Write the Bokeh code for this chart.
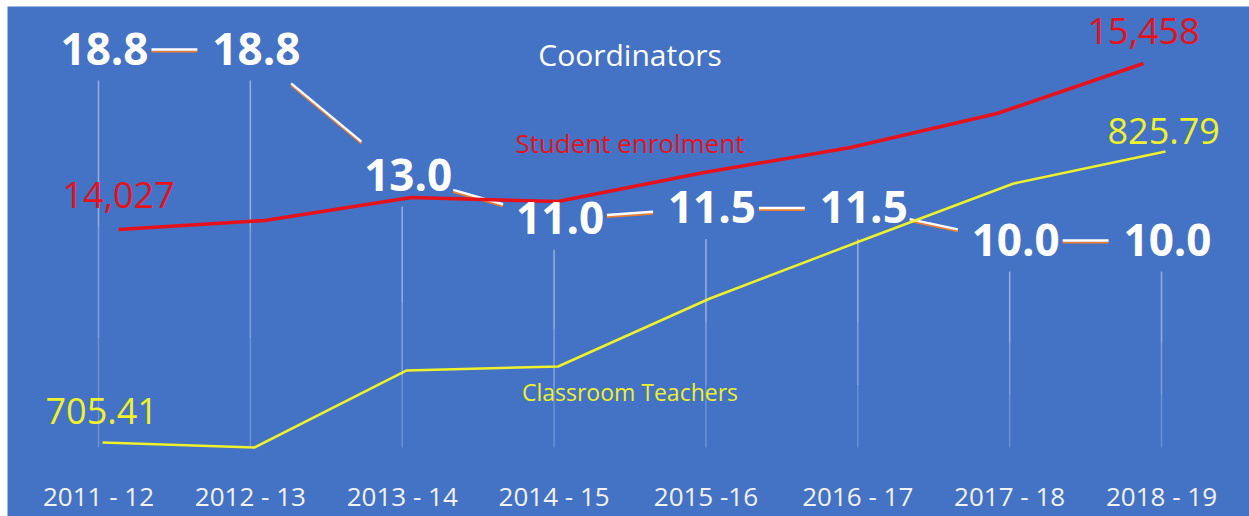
import math
from bokeh.plotting import figure
from bokeh.models import Range1d
from bokeh.core.properties import value
from bokeh.embed import file_html
from bokeh.resources import INLINE

# ---------------- data ----------------
years = ["2011 - 12", "2012 - 13", "2013 - 14", "2014 - 15",
         "2015 -16", "2016 - 17", "2017 - 18", "2018 - 19"]
coordinators = [18.8, 18.8, 13.0, 11.0, 11.5, 11.5, 10.0, 10.0]
enrolment = [14027, 14105, 14303, 14268, 14518, 14734, 15027, 15458]
teachers = [705.41, 703.34, 735.19, 736.85, 764.98, 788.97, 812.55, 825.79]
enrol_labels = ["14,027", "15,458"]
teach_labels = ["705.41", "825.79"]
series_names = ["Coordinators", "Student enrolment", "Classroom Teachers"]

BG = "#4472c4"
RED = "#e5121c"
YEL = "#eef12b"
FONT = value("Open Sans")
BASE = 0.38  # baseline correction (fraction of font size)

W, H = 1249, 516
idx = list(range(len(years)))

p = figure(width=W, height=H, output_backend="svg", toolbar_location=None,
           x_range=Range1d(-0.5992, 7.5794), y_range=Range1d(-2.719, 20.783),
           x_axis_location=None, y_axis_location=None,
           min_border_left=7, min_border_top=6, min_border_right=0, min_border_bottom=0,
           background_fill_color=BG, border_fill_color="white", outline_line_color=None)
p.grid.visible = False
p.extra_x_ranges = {"enrol": Range1d(-0.7580, 7.7239), "teach": Range1d(-0.6256, 7.5530)}
p.extra_y_ranges = {"enrol": Range1d(11552.9, 15949.4), "teach": Range1d(674.80, 885.78)}

px_x = (W - 7) / (p.x_range.end - p.x_range.start)
px_y = (H - 6) / (p.y_range.end - p.y_range.start)

# ---- vertical drop lines under each coordinator value (fading downwards) ----
bottom = 0.461
tops = [v - 31 / px_y for v in coordinators]
for frac, alpha in [(1.0, 0.22), (0.7, 0.15), (0.4, 0.15)]:
    ends = [t - (t - bottom) * frac for t in tops]
    p.segment(x0=idx, y0=tops, x1=idx, y1=ends,
              line_color="white", line_alpha=alpha, line_width=1.5)

# ---- coordinator connectors (trimmed around the labels) ----
x0s, y0s, x1s, y1s = [], [], [], []
gap = 53
for i in range(len(coordinators) - 1):
    dv = coordinators[i + 1] - coordinators[i]
    L = math.hypot(px_x, dv * px_y)
    t = gap / L
    x0s.append(i + t); x1s.append(i + 1 - t)
    y0s.append(coordinators[i] + t * dv); y1s.append(coordinators[i + 1] - t * dv)
off = 2.0 / px_y
p.segment(x0=x0s, y0=[y - off for y in y0s], x1=x1s, y1=[y - off for y in y1s],
          line_color="#ed7d31", line_width=2.0)
p.segment(x0=x0s, y0=y0s, x1=x1s, y1=y1s, line_color="white", line_width=2.4)

# ---- enrolment & teachers lines ----
p.line(idx, enrolment, x_range_name="enrol", y_range_name="enrol",
       line_color=RED, line_width=3.5, line_join="round")
p.line(idx, teachers, x_range_name="teach", y_range_name="teach",
       line_color=YEL, line_width=2.5, line_join="round")

# ---- coordinator value labels ----
p.text(x=idx, y=coordinators, text=[f"{v:.1f}" for v in coordinators],
       text_font=FONT, text_font_style="bold", text_font_size="44px",
       text_color="white", text_align="center", text_baseline="alphabetic",
       x_offset=6, y_offset=16 - BASE * 44)

# ---- end labels ----
def end_label(i, y, txt, rng, col, dx, dy):
    p.text(x=[i], y=[y], text=[txt], x_range_name=rng, y_range_name=rng,
           text_font=FONT, text_font_size="36px", text_color=col,
           text_align="left", text_baseline="alphabetic",
           x_offset=dx, y_offset=dy - 0.34 * 36)

end_label(0, enrolment[0], enrol_labels[0], "enrol", RED, -56, -22)
end_label(7, enrolment[-1], enrol_labels[1], "enrol", RED, -56, -20)
end_label(0, teachers[0], teach_labels[0], "teach", YEL, -57, -19)
end_label(7, teachers[-1], teach_labels[1], "teach", YEL, -58, -8)

# ---- series names (placed in coordinator-axis units) ----
for txt, yy, col, fs in [(series_names[0], 18.064, "white", 30),
                         (series_names[1], 14.055, RED, 26),
                         (series_names[2], 2.626, YEL, 23)]:
    p.text(x=[3.5], y=[yy], text=[txt], text_font=FONT, text_font_size=f"{fs}px",
           text_color=col, text_align="center", text_baseline="alphabetic",
           y_offset=-BASE * fs)

# ---- year labels ----
p.text(x=idx, y=[-2.166] * len(idx), text=years, text_font=FONT, text_font_size="26px",
       text_color="#f2f2f2", text_align="center", text_baseline="alphabetic",
       y_offset=-0.34 * 26)

open("out.html", "w").write(file_html(p, INLINE))
